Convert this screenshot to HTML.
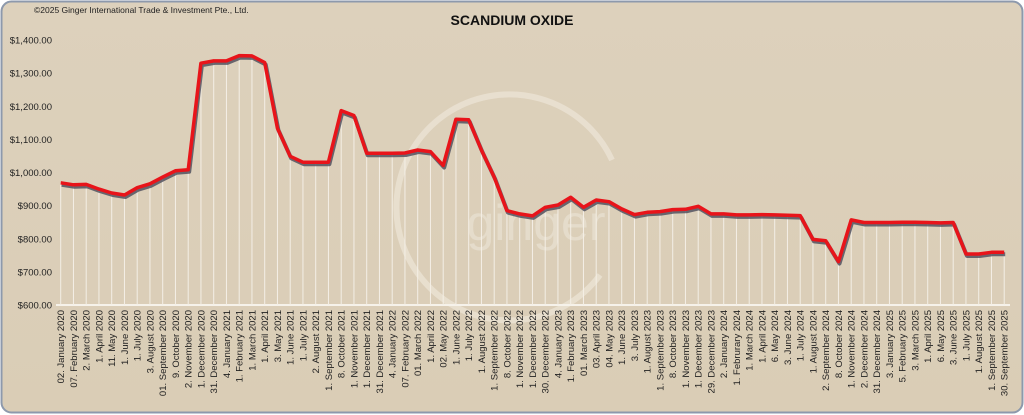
<!DOCTYPE html>
<html><head><meta charset="utf-8"><style>
html,body{margin:0;padding:0;background:#fff;}
#c{width:1024px;height:415px;position:relative;}
svg{display:block;font-family:"Liberation Sans",sans-serif;}
</style></head><body><div id="c">
<svg id="s" width="1024" height="415" viewBox="0 0 1024 415" xmlns="http://www.w3.org/2000/svg">
<defs><linearGradient id="bg" x1="0" y1="0" x2="0" y2="1"><stop offset="0" stop-color="#ddd1bc"/><stop offset="1" stop-color="#dacdb6"/></linearGradient></defs>
<rect x="1.5" y="1.5" width="1021" height="411" rx="10" fill="url(#bg)" stroke="#8d99ac" stroke-width="2"/>
<text x="34" y="13" font-size="8.5" fill="#222">©2025 Ginger International Trade &amp; Investment Pte., Ltd.</text>
<text x="512" y="25" font-size="14" font-weight="bold" text-anchor="middle" fill="#111">SCANDIUM OXIDE</text>
<path d="M 612 160 A 113 113 0 1 0 600 275" fill="none" stroke="#ece4d6" stroke-width="6" opacity="0.75"/>
<text x="536" y="240" font-size="50" text-anchor="middle" fill="#e8e0d0" opacity="0.8" font-weight="300">ginger</text>
<g id="g"></g>
</svg></div>
<script>
var v=[969,963,964,950,938,932,954,966,986,1005,1008,1330,1337,1337,1353,1352,1332,1134,1049,1031,1031,1031,1187,1172,1058,1058,1058,1059,1068,1063,1021,1161,1159,1068,986,885,875,869,895,902,925,895,917,912,890,873,880,882,888,889,898,875,875,872,872,873,872,871,870,798,794,731,857,849,849,849,850,850,849,848,849,754,754,759,759];
var L=["02. January 2020","07. February 2020","2. March 2020","1. April 2020","11. May 2020","1. June 2020","1. July 2020","3. August 2020","01. September 2020","9. October 2020","2. November 2020","1. December 2020","31. December 2020","4. January 2021","1. February 2021","1. March 2021","1. April 2021","3. May 2021","1. June 2021","1. July 2021","2. August 2021","1. September 2021","8. October 2021","1. November 2021","1. December 2021","31. December 2021","4. January 2022","07. February 2022","01. March 2022","1. April 2022","02. May 2022","1. June 2022","1. July 2022","1. August 2022","1. September 2022","8. October 2022","1. November 2022","1. December 2022","30. December 2022","4. January 2023","1. February 2023","01. March 2023","03. April 2023","04. May 2023","1. June 2023","3. July 2023","1. August 2023","1. September 2023","8. October 2023","1. November 2023","1. December 2023","29. December 2023","2. January 2024","1. Februrary 2024","1. March 2024","1. April 2024","6. May 2024","3. June 2024","1. July 2024","1. August 2024","2. September 2024","8. October 2024","1. November 2024","2. December 2024","31. December 2024","3. January 2025","5. February 2025","3. March 2025","1. April 2025","6. May 2025","3. June 2025","1. July 2025","1. August 2025","1. September 2025","30. September 2025"];
function X(i){return 60.7+12.75*i}
function Y(val){return 305-(val-600)*0.33125}
var h='';
for(var k=600;k<=1400;k+=100){var y=Y(k);h+='<text x="52" y="'+(y+3.5)+'" font-size="9.5" text-anchor="end" fill="#222">$'+(k>=1000?'1,'+String(k-1000).padStart(3,'0'):k)+'.00</text>';}
h+='<line x1="56" y1="305" x2="1010" y2="305" stroke="#f6f2ea" stroke-width="2"/>';
var p='';
for(var i=0;i<v.length;i++){var x=X(i),y=Y(v[i]);h+='<line x1="'+x+'" y1="'+y+'" x2="'+x+'" y2="305" stroke="#f4efe6" stroke-width="1"/>';p+=(i?'L':'M')+x.toFixed(1)+' '+y.toFixed(1)+' ';
h+='<text transform="translate('+(x+3.5)+',310) rotate(-90)" font-size="9.5" text-anchor="end" fill="#222">'+L[i]+'</text>';}
h+='<path d="'+p+'" fill="none" stroke="#4a4a5a" stroke-width="4" stroke-linejoin="round" transform="translate(1,2)" opacity="0.8"/>';
h+='<path d="'+p+'" fill="none" stroke="#e8141a" stroke-width="3.5" stroke-linejoin="round"/>';
document.getElementById('g').innerHTML=h;
</script>
</body></html>
